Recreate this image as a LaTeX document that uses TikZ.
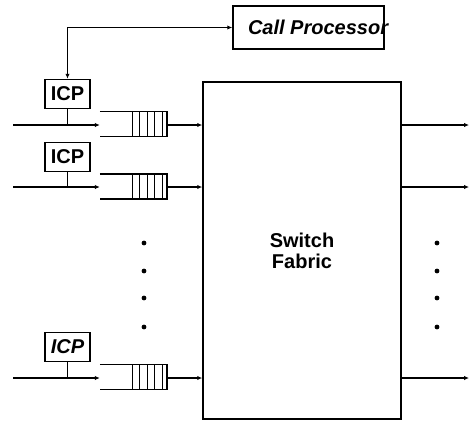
\documentclass[tikz,border=0pt]{standalone}
\usepackage{fontspec}
\setmainfont{Liberation Sans}
\usetikzlibrary{arrows.meta, positioning}

\begin{document}
\begin{tikzpicture}[x=1pt, y=-1pt,
    icpbox/.style={rectangle, draw, line width=1.5pt, minimum width=45pt,
    minimum height=29pt, inner sep=0pt, font=\fontsize{20}{21}\selectfont\bfseries},
    queuebox/.style={rectangle, minimum width=67pt, minimum height=25pt, inner sep=0pt},
    fabricbox/.style={rectangle, draw, line width=1.5pt, minimum width=198pt,
    minimum height=337pt, align=center, font=\fontsize{20}{21}\selectfont\bfseries},
    link/.style={line width=1.5pt},
    arrow/.style={-{Latex[length=5pt,width=4.5pt]}, line width=1.5pt}
]
\useasboundingbox (0,0) rectangle (470,421);

% Call Processor
\node[rectangle, draw, line width=1.5pt, minimum height=43pt, inner xsep=0pt,
    font=\fontsize{20}{21}\selectfont\bfseries\itshape] (cp) at (308.5,27.5)
    {\makebox[151pt][l]{\hspace{15pt}Call Processor}};

% Switch Fabric
\node[fabricbox] (fab) at (302,250.5) {Switch\\Fabric};

% ICPs
\node[icpbox] (icp1) at (67.5,94) {ICP};
\node[icpbox] (icp2) at (67.5,157) {ICP};
\node[icpbox, font=\fontsize{20}{21}\selectfont\bfseries\itshape] (icp3) at (67.5,347) {ICP};

% queues
\node[queuebox] (q1) at (133.5,124) {};
\node[queuebox] (q2) at (133.5,186.5) {};
\node[queuebox] (q3) at (133.5,377) {};
\foreach \q in {q1,q2,q3} {
    \draw[link] (\q.north west) -- (\q.north east) -- (\q.south east) -- (\q.south west);
    \foreach \d in {5,12.5,...,35}
        \draw[line width=1.1pt] ([xshift=-\d pt]\q.north east) -- ([xshift=-\d pt]\q.south east);
}

% input and output lines
\coordinate (in1) at (13,125);
\coordinate (in2) at (13,187);
\coordinate (in3) at (13,378);
\coordinate (out1) at (469,125);
\coordinate (out2) at (469,187);
\coordinate (out3) at (469,378);

\draw[{Latex[length=5pt,width=4.5pt]}-{Latex[length=5pt,width=4.5pt]}, line width=1.5pt]
    (cp.west) -| (icp1.north);
\foreach \r in {1,2,3} {
    \draw[arrow] (in\r) -- (in\r -| q\r.west);
    \draw[link] (icp\r.south) -- (icp\r.south |- in\r);
    \draw[arrow] (q\r.east |- in\r) -- (in\r -| fab.west);
    \draw[arrow] (fab.east |- out\r) -- (out\r);
}

% dots
\foreach \y in {243,271,298,327} {
    \fill (144,\y) circle (2.4pt);
    \fill (437,\y) circle (2.4pt);
}
\end{tikzpicture}
\end{document}
